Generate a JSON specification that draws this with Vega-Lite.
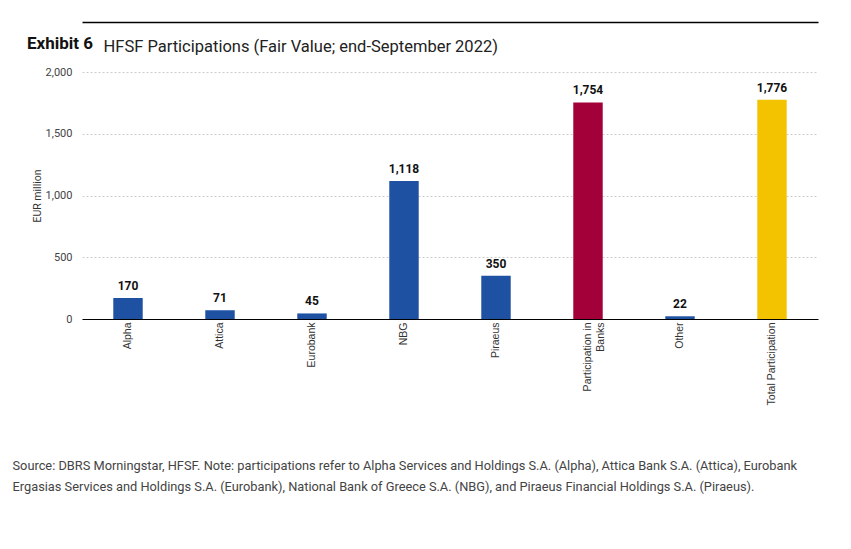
{
  "$schema": "https://vega.github.io/schema/vega-lite/v6.json",
  "width": 736,
  "height": 247,
  "autosize": {"type": "none"},
  "padding": {"left": 82, "top": 72, "right": 33, "bottom": 230},
  "background": "white",
  "config": {
    "view": {"stroke": null},
    "font": "Roboto"
  },
  "title": {
    "text": "Exhibit 6",
    "anchor": "start",
    "frame": "group",
    "dx": -55,
    "offset": -31,
    "fontSize": 17,
    "fontWeight": "bold",
    "color": "#111111",
    "font": "Roboto"
  },
  "data": {
    "values": [
      {"category": "Alpha", "value": 170, "group": "bank"},
      {"category": "Attica", "value": 71, "group": "bank"},
      {"category": "Eurobank", "value": 45, "group": "bank"},
      {"category": "NBG", "value": 1118, "group": "bank"},
      {"category": "Piraeus", "value": 350, "group": "bank"},
      {"category": "Participation in Banks", "value": 1754, "group": "banks total"},
      {"category": "Other", "value": 22, "group": "bank"},
      {"category": "Total Participation", "value": 1776, "group": "total"}
    ]
  },
  "layer": [
    {
      "mark": {"type": "bar"},
      "encoding": {
        "x": {
          "field": "category",
          "type": "nominal",
          "sort": null,
          "scale": {"paddingInner": 0.68, "paddingOuter": 0.34},
          "axis": {
            "orient": "bottom",
            "labelAngle": -90,
            "labelFont": "Liberation Sans, Arial",
            "labelFontSize": 10.5,
            "labelColor": "#333333",
            "labelPadding": 3,
            "labelExpr": "datum.value == 'Participation in Banks' ? ['Participation in', 'Banks'] : datum.value",
            "ticks": false,
            "domainColor": "#000000",
            "domainWidth": 1,
            "grid": false,
            "title": [
              "Source: DBRS Morningstar, HFSF. Note: participations refer to Alpha Services and Holdings S.A. (Alpha), Attica Bank S.A. (Attica), Eurobank",
              "Ergasias Services and Holdings S.A. (Eurobank), National Bank of Greece S.A. (NBG), and Piraeus Financial Holdings S.A. (Piraeus)."
            ],
            "titleFont": "Roboto",
            "titleFontSize": 12.8,
            "titleFontWeight": "normal",
            "titleColor": "#444444",
            "titleAlign": "left",
            "titleAnchor": "start",
            "titleBaseline": "top",
            "titleX": -70,
            "titleY": 140,
            "titleLineHeight": 21
          }
        },
        "y": {
          "field": "value",
          "type": "quantitative",
          "scale": {"domain": [0, 2000]},
          "axis": {
            "values": [0, 500, 1000, 1500, 2000],
            "format": ",d",
            "domain": false,
            "ticks": false,
            "labelFontSize": 11,
            "labelColor": "#444444",
            "labelPadding": 10,
            "gridColor": "#cccccc",
            "gridDash": [2, 2],
            "gridWidth": 1,
            "title": "EUR million",
            "titleFontSize": 10.5,
            "titleFontWeight": "normal",
            "titleColor": "#333333",
            "titlePadding": 3
          }
        },
        "color": {
          "field": "group",
          "type": "nominal",
          "scale": {
            "domain": ["bank", "banks total", "total"],
            "range": ["#1f51a3", "#a3003a", "#f4c300"]
          },
          "legend": null
        }
      }
    },
    {
      "mark": {"type": "text", "dy": -12, "fontWeight": "bold", "fontSize": 12, "color": "#111111"},
      "encoding": {
        "x": {
          "field": "category",
          "type": "nominal",
          "sort": null,
          "axis": {
            "orient": "top",
            "offset": 50,
            "labels": false,
            "ticks": false,
            "domain": true,
            "domainColor": "#000000",
            "domainWidth": 1.5,
            "grid": false,
            "title": "HFSF Participations (Fair Value; end-September 2022)",
            "titleFont": "Roboto",
            "titleFontSize": 16.5,
            "titleFontWeight": "normal",
            "titleColor": "#222222",
            "titleAlign": "left",
            "titleAnchor": "start",
            "titleBaseline": "alphabetic",
            "titleX": 21,
            "titleY": 29
          }
        },
        "y": {"field": "value", "type": "quantitative"},
        "text": {"field": "value", "type": "quantitative", "format": ","}
      }
    }
  ]
}
